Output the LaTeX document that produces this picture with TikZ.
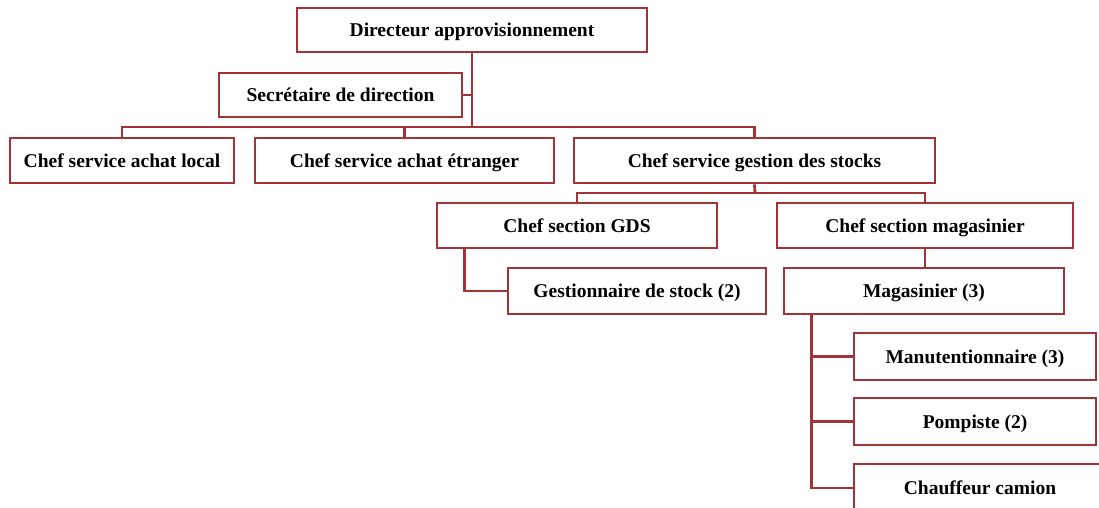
\documentclass[tikz,border=0pt]{standalone}
\usepackage{fontspec}
\setmainfont{Liberation Serif}
\definecolor{boxred}{RGB}{162,52,56}
\begin{document}
\begin{tikzpicture}[x=1pt,y=-1pt,
  box/.style={draw=boxred,line width=2.8pt,fill=white,inner sep=0pt,
    text height=15pt,text depth=1.5pt,
    font=\fontsize{19.5}{22}\selectfont\bfseries,text=black},
  link/.style={draw=boxred,line width=2.8pt}]
\useasboundingbox (0,0) rectangle (1099,508);
\clip (0,0) rectangle (1099,508);
\coordinate (b1) at (472,127);
\coordinate (b2) at (755,193);
\node[box,minimum width=350pt,minimum height=44pt] (dir) at (472,30) {Directeur approvisionnement};
\node[box,minimum width=243pt,minimum height=44pt] (sec) at (340.5,95) {Secrétaire de direction};
\node[box,minimum width=224pt,minimum height=45pt] (loc) at (122,160.5) {Chef service achat local};
\node[box,minimum width=299pt,minimum height=45pt] (etr) at (404.5,160.5) {Chef service achat étranger};
\node[box,minimum width=361pt,minimum height=45pt] (sto) at (754.5,160.5) {Chef service gestion des stocks};
\node[box,minimum width=280pt,minimum height=45pt] (gds) at (577,225.5) {Chef section GDS};
\node[box,minimum width=296pt,minimum height=45pt] (mag) at (925,225.5) {Chef section magasinier};
\node[box,minimum width=258pt,minimum height=46pt] (ges) at (637,291) {Gestionnaire de stock (2)};
\node[box,minimum width=280pt,minimum height=46pt] (mg3) at (924,291) {Magasinier (3)};
\node[box,minimum width=242pt,minimum height=47pt] (man) at (975,356.5) {Manutentionnaire (3)};
\node[box,minimum width=242pt,minimum height=47pt] (pom) at (975,421.5) {Pompiste (2)};
\node[box,minimum width=252pt,minimum height=48pt] (cha) at (980,488) {Chauffeur camion};
% connectors
\draw[link] (dir.south) -- (b1);
\draw[link] (sec.east) -- (sec.east -| b1);
\draw[link] (loc.north) |- (b1);
\draw[link] (etr.north) -- (etr.north |- b1);
\draw[link] (sto.north) |- (b1);
\draw[link] (sto.south) -- (b2);
\draw[link] (gds.north) |- (b2) -| (mag.north);
\coordinate (g1) at ([xshift=29pt]gds.south west);
\draw[link] (g1) |- (ges.west);
\draw[link] (mag.south) -- (mag.south |- mg3.north);
\coordinate (m1) at ([xshift=29pt]mg3.south west);
\draw[link] (m1) |- (cha.west);
\draw[link] (man.west) -- (man.west -| m1);
\draw[link] (pom.west) -- (pom.west -| m1);
\end{tikzpicture}
\end{document}
